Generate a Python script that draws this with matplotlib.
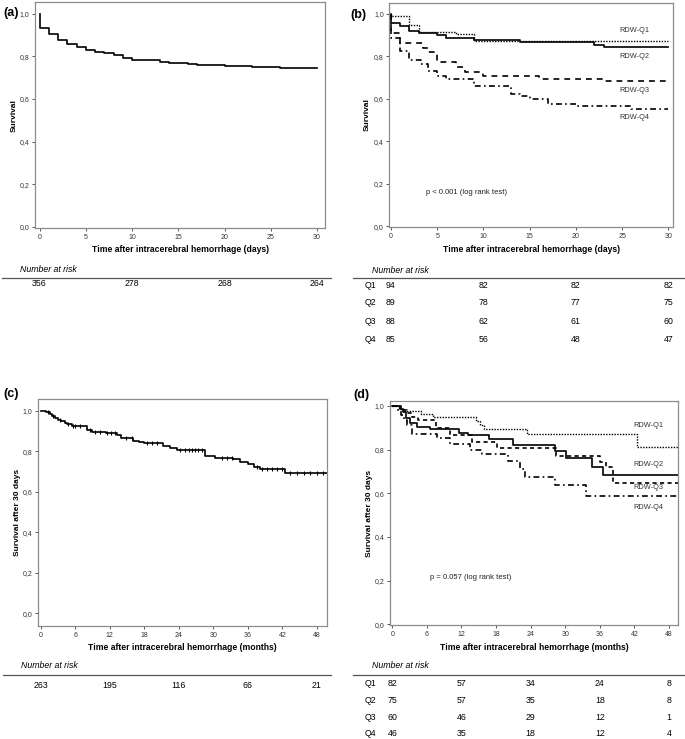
import numpy as np
import matplotlib
matplotlib.use("Agg")
import matplotlib.pyplot as plt
import matplotlib.transforms as mtransforms
from matplotlib.lines import Line2D

plt.rcParams['font.family'] = ['Liberation Sans', 'DejaVu Sans']

# ---- data ----
# (a) overall survival, days
a_t = [0, 1, 2, 3, 4, 5, 6, 7, 8, 9, 10, 13, 14, 15, 16, 17, 20, 22, 23, 26]
a_s = [0.931, 0.906, 0.877, 0.859, 0.845, 0.828, 0.819, 0.814, 0.806, 0.791,
       0.783, 0.775, 0.770, 0.767, 0.764, 0.759, 0.756, 0.753, 0.748, 0.744]
a_days = [0, 10, 20, 30]
a_risk = [356, 278, 268, 264]

# (b) survival by RDW quartile, days
b_q1_t = [0, 2, 3, 7, 9]
b_q1_s = [0.989, 0.947, 0.915, 0.904, 0.872]
b_q2_t = [0, 1, 2, 3, 5, 6, 9, 14, 22, 23]
b_q2_s = [0.955, 0.944, 0.921, 0.910, 0.899, 0.888, 0.876, 0.865, 0.854, 0.843]
b_q3_t = [0, 1, 3.5, 4, 5, 7, 8, 10, 16, 23]
b_q3_s = [0.909, 0.861, 0.841, 0.818, 0.773, 0.750, 0.727, 0.705, 0.693, 0.682]
b_q4_t = [0, 1, 2, 3.3, 4, 5, 6, 9, 13, 14, 15, 17, 20, 26]
b_q4_s = [0.884, 0.824, 0.782, 0.766, 0.729, 0.706, 0.694, 0.659, 0.624, 0.612,
          0.600, 0.576, 0.565, 0.553]
b_days = [0, 10, 20, 30]
b_risk = {'Q1': [94, 82, 82, 82], 'Q2': [89, 78, 77, 75],
          'Q3': [88, 62, 61, 60], 'Q4': [85, 56, 48, 47]}

# (c) survival after 30 days, months
c_t = [1.0, 1.6, 2.0, 2.5, 3.0, 3.5, 4.2, 4.5, 5.4, 8.0, 8.9, 11.4, 13.2, 14.0,
       16.1, 17.0, 17.9, 21.3, 22.5, 23.7, 28.6, 30.3, 33.5, 34.7, 36.1, 37.0,
       38.1, 42.5]
c_s = [0.993, 0.984, 0.975, 0.965, 0.958, 0.950, 0.942, 0.934, 0.926, 0.906,
       0.898, 0.890, 0.880, 0.865, 0.853, 0.848, 0.840, 0.827, 0.819, 0.807,
       0.779, 0.769, 0.761, 0.750, 0.736, 0.725, 0.715, 0.695]
c_cens = [1.3, 2.2, 3.4, 4.7, 5.6, 6.0, 6.8, 8.5, 9.5, 10.3, 11.5, 12.3, 12.9,
          14.9, 15.8, 18.4, 19.3, 20.2, 24.2, 25.1, 25.7, 26.3, 26.8, 27.4, 28.0,
          31.5, 32.3, 33.2, 37.6, 38.4, 39.3, 40.2, 41.0, 41.9, 43.4, 44.5, 45.7,
          46.8, 48.0, 49.1]
c_months = [0, 12, 24, 36, 48]
c_risk = [263, 195, 116, 66, 21]

# (d) survival after 30 days by RDW quartile, months
d_q1_t = [1.2, 2.0, 5.0, 7.0, 14.6, 15.2, 15.9, 23.3, 42.4]
d_q1_s = [0.988, 0.976, 0.963, 0.951, 0.930, 0.915, 0.895, 0.872, 0.814]
d_q2_t = [1.3, 1.8, 2.3, 3.0, 4.2, 6.5, 11.5, 13.2, 16.7, 21.0, 28.2, 30.2, 34.6, 36.6]
d_q2_s = [0.987, 0.973, 0.947, 0.920, 0.905, 0.893, 0.878, 0.866, 0.850, 0.822,
          0.792, 0.760, 0.722, 0.684]
d_q3_t = [1.5, 2.5, 3.5, 4.5, 7.5, 10.0, 13.8, 18.1, 28.4, 36.0, 37.0, 38.2]
d_q3_s = [0.983, 0.967, 0.950, 0.936, 0.898, 0.866, 0.837, 0.806, 0.771, 0.745,
          0.722, 0.646]
d_q4_t = [1.0, 1.5, 2.0, 2.6, 3.4, 7.7, 10.0, 13.5, 15.5, 20.1, 22.2, 23.0, 28.3, 33.6]
d_q4_s = [0.978, 0.957, 0.935, 0.913, 0.870, 0.852, 0.826, 0.798, 0.779, 0.748,
          0.711, 0.674, 0.638, 0.590]
d_months = [0, 12, 24, 36, 48]
d_risk = {'Q1': [82, 57, 34, 24, 8], 'Q2': [75, 57, 35, 18, 8],
          'Q3': [60, 46, 29, 12, 1], 'Q4': [46, 35, 18, 12, 4]}

W, H = 685, 739
fig = plt.figure(figsize=(W / 100, H / 100), dpi=100)


def px_axes(left, top, right, bottom):
    return fig.add_axes([left / W, 1 - bottom / H, (right - left) / W, (bottom - top) / H])


def km(ax, t, s, t_end, **kw):
    xs = [0] + list(t) + [t_end]
    ys = [1.0] + list(s) + [s[-1]]
    ax.step(xs, ys, where='post', color='black', **kw)


def style(ax, xlim, ylim, xticks, ylabel, xlabel, lab_x, lab_y):
    ax.set_xlim(*xlim)
    ax.set_ylim(*ylim)
    ax.set_xticks(xticks)
    ax.set_yticks([0, 0.2, 0.4, 0.6, 0.8, 1.0])
    ax.set_yticklabels(['0,0', '0,2', '0,4', '0,6', '0,8', '1,0'])
    for sp in ax.spines.values():
        sp.set_color('#8c8c8c')
        sp.set_linewidth(0.9)
    ax.tick_params(axis='both', length=2.5, width=0.7, color='#555555',
                   labelsize=5, labelcolor='#333333', pad=1.5)
    ax.set_ylabel(ylabel, fontsize=6, fontweight='bold')
    ax.yaxis.set_label_coords(lab_x, 0.5)
    ax.set_xlabel(xlabel, fontsize=6.2, fontweight='bold')
    ax.xaxis.set_label_coords(0.5, lab_y)


def risk_header(x0, x1, y_txt, y_line, x_txt):
    fig.text(x_txt / W, 1 - y_txt / H, 'Number at risk', fontsize=6.3, style='italic',
             va='center', ha='left')
    fig.add_artist(Line2D([x0 / W, x1 / W], [1 - y_line / H, 1 - y_line / H],
                          color='#555555', lw=0.9))


def risk_row(ax, times, values, y):
    tr = mtransforms.blended_transform_factory(ax.transData, fig.transFigure)
    for t, v in zip(times, values):
        ax.text(t, 1 - y / H, str(v), transform=tr, fontsize=6.3, ha='center',
                va='center', clip_on=False)


# (a)
ax_a = px_axes(35, 2.3, 325, 228.3)
km(ax_a, a_t, a_s, 30, lw=1.2)
style(ax_a, (-0.49, 30.86), (-0.006, 1.053), range(0, 31, 5), 'Survival',
      'Time after intracerebral hemorrhage (days)', -0.058, -0.076)
fig.text(3 / W, 1 - 13 / H, '(a)', fontsize=9, fontweight='bold', va='center')
risk_header(2, 331, 269, 277.7, 20)
risk_row(ax_a, a_days, a_risk, 284)

# (b)
ax_b = px_axes(389.3, 2.7, 673, 227)
km(ax_b, b_q1_t, b_q1_s, 30, lw=1.0, linestyle=(0, (1, 1)))
km(ax_b, b_q2_t, b_q2_s, 30, lw=1.2)
km(ax_b, b_q3_t, b_q3_s, 30, lw=1.2, linestyle=(0, (3.5, 3)))
km(ax_b, b_q4_t, b_q4_s, 30, lw=1.2, linestyle=(0, (3.5, 2, 1, 2)))
style(ax_b, (-0.18, 30.5), (-0.003, 1.052), range(0, 31, 5), 'Survival',
      'Time after intracerebral hemorrhage (days)', -0.064, -0.081)
for lab, yv in zip(['RDW-Q1', 'RDW-Q2', 'RDW-Q3', 'RDW-Q4'], [0.919, 0.799, 0.640, 0.512]):
    ax_b.text(26.3, yv, lab, fontsize=5.3, color='#333333', ha='center', va='center')
ax_b.text(3.8, 0.158, 'p < 0.001 (log rank test)', fontsize=5.5, color='#222222', va='center')
fig.text(350 / W, 1 - 15 / H, '(b)', fontsize=9, fontweight='bold', va='center')
risk_header(353, 685, 271, 278, 372)
for i, (q, vals) in enumerate(b_risk.items()):
    y = [285, 303, 321, 339][i]
    fig.text(365 / W, 1 - y / H, q, fontsize=6.3, va='center')
    risk_row(ax_b, b_days, vals, y)

# (c)
ax_c = px_axes(37.7, 399.3, 326.7, 626)
km(ax_c, c_t, c_s, 49.7, lw=1.2)
full_t = [0] + c_t
full_s = [1.0] + c_s
cy = [full_s[np.searchsorted(full_t, t, side='right') - 1] for t in c_cens]
ax_c.plot(c_cens, cy, linestyle='none', marker='|', markersize=3, color='black', mew=0.8)
style(ax_c, (-0.52, 49.7), (-0.063, 1.058), range(0, 49, 6), 'Survival after 30 days',
      'Time after intracerebral hemorrhage (months)', -0.058, -0.073)
fig.text(3 / W, 1 - 394 / H, '(c)', fontsize=9, fontweight='bold', va='center')
risk_header(3, 331, 665.7, 675, 21)
risk_row(ax_c, c_months, c_risk, 685)

# (d)
ax_d = px_axes(390, 401, 678, 625)
km(ax_d, d_q1_t, d_q1_s, 49.55, lw=1.0, linestyle=(0, (1, 1)))
km(ax_d, d_q2_t, d_q2_s, 49.55, lw=1.2)
km(ax_d, d_q3_t, d_q3_s, 49.55, lw=1.2, linestyle=(0, (2.5, 2)))
km(ax_d, d_q4_t, d_q4_s, 49.55, lw=1.2, linestyle=(0, (3.5, 2, 1, 2)))
style(ax_d, (-0.4, 49.55), (-0.003, 1.023), range(0, 49, 6), 'Survival after 30 days',
      'Time after intracerebral hemorrhage (months)', -0.059, -0.079)
for lab, yv in zip(['RDW-Q1', 'RDW-Q2', 'RDW-Q3', 'RDW-Q4'], [0.910, 0.734, 0.626, 0.534]):
    ax_d.text(44.4, yv, lab, fontsize=5.3, color='#333333', ha='center', va='center')
ax_d.text(6.5, 0.215, 'p = 0.057 (log rank test)', fontsize=5.5, color='#222222', va='center')
fig.text(353 / W, 1 - 395 / H, '(d)', fontsize=9, fontweight='bold', va='center')
risk_header(353, 685, 665, 675, 372)
for i, (q, vals) in enumerate(d_risk.items()):
    y = [684, 700.7, 717.3, 733.3][i]
    fig.text(365 / W, 1 - y / H, q, fontsize=6.3, va='center')
    risk_row(ax_d, d_months, vals, y)

fig.savefig('out.png', dpi=100)
